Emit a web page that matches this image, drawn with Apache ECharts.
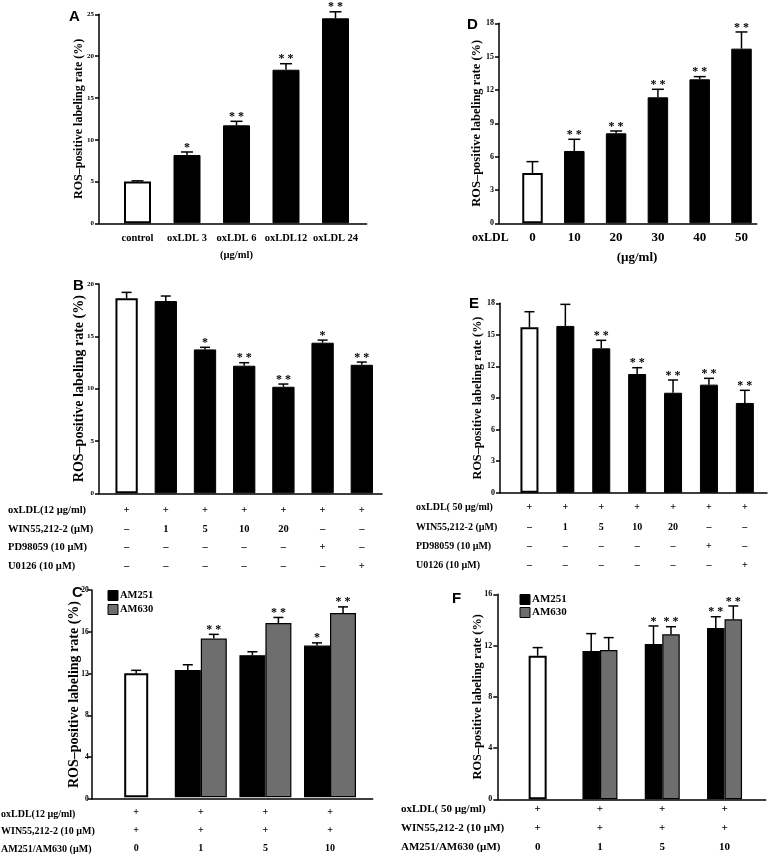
<!DOCTYPE html>
<html><head><meta charset="utf-8">
<script src="https://cdn.jsdelivr.net/npm/echarts@6/dist/echarts.min.js"></script>
<style>html,body{margin:0;padding:0;background:#fff}#c{width:769px;height:857px}</style>
</head><body><div id="c"></div>
<script>
const SERIF = "'Liberation Serif','Times New Roman',serif";
const SANS = "'Liberation Sans',Arial,sans-serif";
const YNAME = 'ROS–positive labeling rate (%)';

// ---- Panel A ----
const catsA = ['control', 'oxLDL 3', 'oxLDL 6', 'oxLDL12', 'oxLDL 24'];
const valsA = [5.0, 8.17, 11.72, 18.37, 24.52];
const semA = [0.08, 0.36, 0.48, 0.72, 0.78];
const sigA = ['', '*', '**', '**', '**'];
const ticksA = [0, 5, 10, 15, 20, 25];

// ---- Panel D ----
const catsD = ['0', '10', '20', '30', '40', '50'];
const valsD = [4.53, 6.51, 8.10, 11.34, 12.96, 15.72];
const semD = [1.02, 1.05, 0.21, 0.72, 0.24, 1.50];
const sigD = ['', '**', '**', '**', '**', '**'];
const ticksD = [0, 3, 6, 9, 12, 15, 18];

// ---- Panel B ----
const rowNamesB = ['oxLDL(12 µg/ml)', 'WIN55,212-2 (µM)', 'PD98059 (10 µM)', 'U0126 (10 µM)'];
const rowsB = [
  ['+', '+', '+', '+', '+', '+', '+'],
  ['–', '1', '5', '10', '20', '–', '–'],
  ['–', '–', '–', '–', '–', '+', '–'],
  ['–', '–', '–', '–', '–', '–', '+']
];
const valsB = [18.65, 18.37, 13.75, 12.19, 10.18, 14.39, 12.28];
const semB = [0.55, 0.48, 0.20, 0.29, 0.26, 0.25, 0.26];
const sigB = ['', '', '*', '**', '**', '*', '**'];
const ticksB = [0, 5, 10, 15, 20];

// ---- Panel E ----
const rowNamesE = ['oxLDL( 50 µg/ml)', 'WIN55,212-2 (µM)', 'PD98059 (10 µM)', 'U0126 (10 µM)'];
const rowsE = [
  ['+', '+', '+', '+', '+', '+', '+'],
  ['–', '1', '5', '10', '20', '–', '–'],
  ['–', '–', '–', '–', '–', '+', '–'],
  ['–', '–', '–', '–', '–', '–', '+']
];
const valsE = [15.72, 15.85, 13.72, 11.28, 9.50, 10.27, 8.53];
const semE = [1.48, 2.05, 0.76, 0.60, 1.21, 0.60, 1.20];
const sigE = ['', '', '**', '**', '**', '**', '**'];
const ticksE = [0, 3, 6, 9, 12, 15, 18];

// ---- Panel C ----
const rowNamesC = ['oxLDL(12 µg/ml)', 'WIN55,212-2 (10 µM)', 'AM251/AM630 (µM)'];
const rowsC = [['+', '+', '+', '+'], ['+', '+', '+', '+'], ['0', '1', '5', '10']];
const ctrlC = [11.96, null, null, null];
const ctrlSemC = [0.29, null, null, null];
const am251C = [null, 12.28, 13.71, 14.64];
const sem251C = [null, 0.51, 0.33, 0.26];
const sig251C = ['', '', '', '*'];
const am630C = [null, 15.31, 16.81, 17.77];
const sem630C = [null, 0.41, 0.54, 0.60];
const sig630C = ['', '**', '**', '**'];
const ticksC = [0, 4, 8, 12, 16, 20];

// ---- Panel F ----
const rowNamesF = ['oxLDL( 50 µg/ml)', 'WIN55,212-2 (10 µM)', 'AM251/AM630 (µM)'];
const rowsF = [['+', '+', '+', '+'], ['+', '+', '+', '+'], ['0', '1', '5', '10']];
const ctrlF = [11.21, null, null, null];
const ctrlSemF = [0.63, null, null, null];
const am251F = [null, 11.58, 12.12, 13.37];
const sem251F = [null, 1.35, 1.41, 0.88];
const sig251F = ['', '', '*', '**'];
const am630F = [null, 11.65, 12.88, 14.05];
const sem630F = [null, 0.97, 0.59, 1.04];
const sig630F = ['', '', '**', '**'];
const ticksF = [0, 4, 8, 12, 16];

const GRAY = '#6e6e6e';

const option = {
  animation: false, backgroundColor: '#fff',
  grid: [], xAxis: [], yAxis: [], series: [], title: [], legend: []
};

function addFrame(L, ticks) {
  const g = option.grid.length;
  option.grid.push({ left: L.axisX, top: L.top, width: L.axisEnd - L.axisX, height: L.zero - L.top });
  option.xAxis.push({
    gridIndex: g, type: 'value', min: 0, max: 1,
    axisLine: { show: true, onZero: false, lineStyle: { color: '#000', width: 1.5 } },
    axisTick: { show: false }, axisLabel: { show: false }, splitLine: { show: false }
  });
  option.yAxis.push({
    gridIndex: g, type: 'value', min: ticks[0], max: ticks[ticks.length - 1], interval: ticks[1] - ticks[0],
    axisLine: { show: true, lineStyle: { color: '#000', width: 1.5 } },
    axisTick: { show: true, length: 4, lineStyle: { color: '#000', width: 1.5 } },
    axisLabel: { margin: L.tickMargin || 5, fontFamily: SERIF, fontWeight: 'bold', fontSize: L.tickFont, color: '#000' },
    splitLine: { show: false },
    name: YNAME, nameLocation: 'middle', nameGap: L.nameGap, nameMoveOverlap: false,
    nameTextStyle: { fontFamily: SERIF, fontWeight: 'bold', fontSize: L.nameFont, color: '#000' }
  });
}

function addBarGrid(L, ticks, xCfg) {
  const g = option.grid.length;
  option.grid.push({ left: L.bandStart, top: L.top, width: L.band * L.n, height: L.zero - L.top });
  const xi = option.xAxis.length;
  option.xAxis.push(Object.assign({
    gridIndex: g, type: 'category', axisLine: { show: false }, axisTick: { show: false }, splitLine: { show: false },
    nameMoveOverlap: false
  }, xCfg));
  const yi = option.yAxis.length;
  option.yAxis.push({ gridIndex: g, type: 'value', min: ticks[0], max: ticks[ticks.length - 1], show: false });
  return { g, xi, yi };
}

function errRenderer(sig, off, cap, font) {
  return function (params, api) {
    const i = params.dataIndex;
    const p1 = api.coord([api.value(0), api.value(1)]);
    const p2 = api.coord([api.value(0), api.value(2)]);
    const x = p1[0] + off;
    const ch = [
      { type: 'line', shape: { x1: x, y1: p1[1], x2: x, y2: p2[1] }, style: { stroke: '#000', lineWidth: 1.5 } },
      { type: 'line', shape: { x1: x - cap, y1: p2[1], x2: x + cap, y2: p2[1] }, style: { stroke: '#000', lineWidth: 1.5 } }
    ];
    if (sig[i]) {
      ch.push({ type: 'text', style: { text: sig[i].split('').join(' '), x: x, y: p2[1] + 1.5, align: 'center', verticalAlign: 'bottom', font: 'bold ' + font + 'px ' + SERIF, fill: '#000' } });
    }
    return { type: 'group', children: ch };
  };
}

function errData(vals, sems) {
  const out = [];
  vals.forEach((v, i) => { if (v != null) out.push([i, v, v + sems[i]]); });
  return out;
}
function sigFor(vals, sig) {
  const out = [];
  vals.forEach((v, i) => { if (v != null) out.push(sig[i]); });
  return out;
}

function simpleBars(ax, vals, sems, sig, L) {
  option.series.push({
    type: 'bar', xAxisIndex: ax.xi, yAxisIndex: ax.yi, barWidth: L.barW,
    itemStyle: { color: '#000', borderColor: '#000', borderWidth: 1 },
    data: vals.map((v, i) => i === 0 ? { value: v, itemStyle: { color: '#fff', borderColor: '#000', borderWidth: 2 } } : v)
  });
  option.series.push({
    type: 'custom', xAxisIndex: ax.xi, yAxisIndex: ax.yi, z: 5,
    renderItem: errRenderer(sig, 0, L.cap, L.starFont), data: errData(vals, sems)
  });
}

function tableLabel(rows, L) {
  return {
    interval: 0, margin: L.labMargin, fontFamily: SERIF, fontWeight: 'bold', fontSize: L.tabFont,
    lineHeight: L.lh, color: '#000',
    formatter: function (v, idx) { return rows.map(r => r[idx]).join('\n'); }
  };
}

function headerTitle(names, L) {
  option.title.push({
    text: names.join('\n'), left: L.hx, top: L.hy, padding: 0,
    textStyle: { fontFamily: SERIF, fontWeight: 'bold', fontSize: L.tabFont, lineHeight: L.lh, color: '#000' }
  });
}
function letter(t, x, y) {
  option.title.push({ text: t, left: x, top: y, padding: 0, textStyle: { fontFamily: SANS, fontWeight: 'bold', fontSize: 15, color: '#000' } });
}

// ===== Panel A =====
{
  const L = { axisX: 99, top: 14.3, zero: 223.3, axisEnd: 366.7, bandStart: 112.75, band: 49.5, n: 5, barW: 27, cap: 6, starFont: 12, tickFont: 7, nameFont: 12, nameGap: 14 };
  addFrame(L, ticksA);
  const ax = addBarGrid(L, ticksA, {
    data: catsA,
    axisLabel: { interval: 0, margin: 8.2, fontFamily: SERIF, fontWeight: 'bold', fontSize: 10.5, lineHeight: 13, color: '#000' },
    name: '(µg/ml)', nameLocation: 'middle', nameGap: 26.4,
    nameTextStyle: { fontFamily: SERIF, fontWeight: 'bold', fontSize: 10.5, color: '#000' }
  });
  simpleBars(ax, valsA, semA, sigA, L);
  letter('A', 69, 9);
}

// ===== Panel D =====
{
  const L = { axisX: 499, top: 23.3, zero: 223.3, axisEnd: 756.7, bandStart: 511.6, band: 41.8, n: 6, barW: 20.5, cap: 6, starFont: 12, tickFont: 8, nameFont: 12.5, nameGap: 15.5 };
  addFrame(L, ticksD);
  const ax = addBarGrid(L, ticksD, {
    data: catsD,
    axisLabel: { interval: 0, margin: 7.2, fontFamily: SERIF, fontWeight: 'bold', fontSize: 13, lineHeight: 15, color: '#000' },
    name: '(µg/ml)', nameLocation: 'middle', nameGap: 27.7,
    nameTextStyle: { fontFamily: SERIF, fontWeight: 'bold', fontSize: 13, color: '#000' }
  });
  simpleBars(ax, valsD, semD, sigD, L);
  option.title.push({ text: 'oxLDL', left: 472, top: 231.5, padding: 0, textStyle: { fontFamily: SERIF, fontWeight: 'bold', fontSize: 12, color: '#000' } });
  letter('D', 467, 17.5);
}

// ===== Panel B =====
{
  const L = { axisX: 99, top: 284, zero: 493.3, axisEnd: 382, bandStart: 107, band: 39.2, n: 7, barW: 22.3, cap: 5, starFont: 12, tickFont: 7, nameFont: 14, nameGap: 13,
    labMargin: 8.2, tabFont: 10.5, lh: 18.4, hx: 8, hy: 501.5 };
  addFrame(L, ticksB);
  const ax = addBarGrid(L, ticksB, { data: rowsB[0].map((_, i) => 'c' + i), axisLabel: tableLabel(rowsB, L) });
  simpleBars(ax, valsB, semB, sigB, L);
  headerTitle(rowNamesB, L);
  letter('B', 73, 278);
}

// ===== Panel E =====
{
  const L = { axisX: 500, top: 303.3, zero: 492.7, axisEnd: 767, bandStart: 511.5, band: 35.9, n: 7, barW: 18, cap: 5, starFont: 12, tickFont: 8, nameFont: 12.2, nameGap: 16,
    labMargin: 5.3, tabFont: 10, lh: 19.4, hx: 416, hy: 498 };
  addFrame(L, ticksE);
  const ax = addBarGrid(L, ticksE, { data: rowsE[0].map((_, i) => 'c' + i), axisLabel: tableLabel(rowsE, L) });
  simpleBars(ax, valsE, semE, sigE, L);
  headerTitle(rowNamesE, L);
  letter('E', 469, 296.5);
}

function groupedPanel(L, ticks, rows, names, ctrl, ctrlSem, a1, s1, g1, a2, s2, g2, legendPos, let, letPos) {
  addFrame(L, ticks);
  const ax = addBarGrid(L, ticks, { data: rows[0].map((_, i) => 'c' + i), axisLabel: tableLabel(rows, L) });
  // hidden second category axis for the centred control bar
  const xi2 = option.xAxis.length;
  option.xAxis.push({ gridIndex: ax.g, type: 'category', show: false, data: rows[0].map((_, i) => 'c' + i) });
  option.series.push({
    type: 'bar', xAxisIndex: xi2, yAxisIndex: ax.yi, barWidth: L.whiteW,
    itemStyle: { color: '#fff', borderColor: '#000', borderWidth: 2 },
    data: ctrl.map(v => v == null ? '-' : v)
  });
  option.series.push({
    name: 'AM251', type: 'bar', xAxisIndex: ax.xi, yAxisIndex: ax.yi, barWidth: L.barW, barGap: '0%',
    itemStyle: { color: '#000', borderColor: '#000', borderWidth: 1.2 },
    data: a1.map(v => v == null ? '-' : v)
  });
  option.series.push({
    name: 'AM630', type: 'bar', xAxisIndex: ax.xi, yAxisIndex: ax.yi, barWidth: L.barW, barGap: '0%',
    itemStyle: { color: GRAY, borderColor: '#000', borderWidth: 1.2 },
    data: a2.map(v => v == null ? '-' : v)
  });
  const half = L.barW / 2;
  option.series.push({ type: 'custom', xAxisIndex: ax.xi, yAxisIndex: ax.yi, z: 5, renderItem: errRenderer(sigFor(ctrl, ctrl.map(() => '')), 0, L.cap, L.starFont), data: errData(ctrl, ctrlSem) });
  option.series.push({ type: 'custom', xAxisIndex: ax.xi, yAxisIndex: ax.yi, z: 5, renderItem: errRenderer(sigFor(a1, g1), -half, L.cap, L.starFont), data: errData(a1, s1) });
  option.series.push({ type: 'custom', xAxisIndex: ax.xi, yAxisIndex: ax.yi, z: 5, renderItem: errRenderer(sigFor(a2, g2), half, L.cap, L.starFont), data: errData(a2, s2) });
  headerTitle(names, L);
  option.legend.push({
    left: legendPos[0], top: legendPos[1], orient: 'vertical', padding: 0, itemWidth: 10, itemHeight: 10, itemGap: legendPos[2],
    icon: 'rect', data: ['AM251', 'AM630'], selectedMode: false,
    itemStyle: { borderColor: '#000', borderWidth: 1 },
    textStyle: { fontFamily: SERIF, fontWeight: 'bold', fontSize: legendPos[3], color: '#000', padding: [0, 0, 0, -3] }
  });
  letter(let, letPos[0], letPos[1]);
}

// ===== Panel C =====
groupedPanel(
  { axisX: 91.7, top: 590, zero: 799, axisEnd: 372.7, bandStart: 103.9, band: 64.6, n: 4, barW: 26, whiteW: 24, cap: 5, starFont: 12, tickFont: 7.5, tickMargin: 3, nameFont: 14, nameGap: 10,
    labMargin: 6, tabFont: 10, lh: 17.9, hx: 1, hy: 805 },
  ticksC, rowsC, rowNamesC, ctrlC, ctrlSemC, am251C, sem251C, sig251C, am630C, sem630C, sig630C,
  [107.5, 590, 3, 10.5], 'C', [72, 585]
);

// ===== Panel F =====
groupedPanel(
  { axisX: 497.3, top: 594.3, zero: 799.3, axisEnd: 765.7, bandStart: 506.5, band: 62.3, n: 4, barW: 17.5, whiteW: 18, cap: 5, starFont: 12, tickFont: 8, nameFont: 12.4, nameGap: 14,
    labMargin: 0.5, tabFont: 11, lh: 19, hx: 401, hy: 799.8 },
  ticksF, rowsF, rowNamesF, ctrlF, ctrlSemF, am251F, sem251F, sig251F, am630F, sem630F, sig630F,
  [519.5, 594, 2, 11], 'F', [452, 591.5]
);

const chart = echarts.init(document.getElementById('c'), null, { renderer: 'canvas' });
chart.setOption(option);
</script>
</body></html>
